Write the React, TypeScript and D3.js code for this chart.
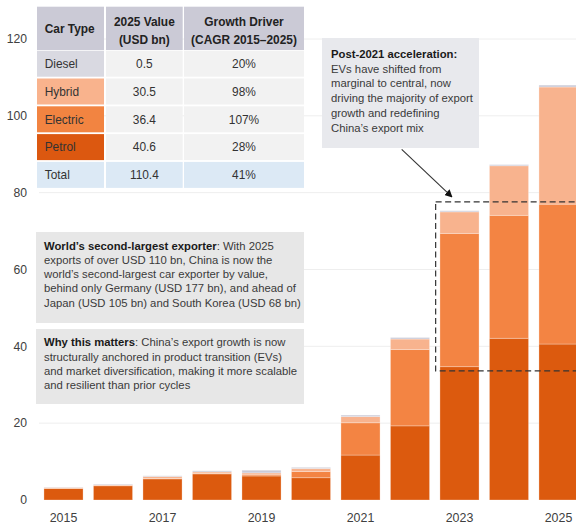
import React from "react";
import * as d3 from "d3";

const years = [2015, 2016, 2017, 2018, 2019, 2020, 2021, 2022, 2023, 2024, 2025];
const petrol = [3.0, 3.7, 5.5, 6.8, 6.25, 5.8, 11.7, 19.3, 34.7, 42.1, 40.6];
const electric = [0.05, 0.05, 0.1, 0.1, 0.3, 1.6, 8.4, 19.9, 34.7, 32.0, 36.4];
const hybrid = [0.2, 0.2, 0.5, 0.4, 0.5, 0.8, 1.6, 2.7, 5.6, 12.9, 30.5];
const diesel = [0.1, 0.2, 0.2, 0.3, 0.7, 0.3, 0.4, 0.4, 0.3, 0.3, 0.5];

const yTicks = [0, 20, 40, 60, 80, 100, 120];
const xTickYears = [2015, 2017, 2019, 2021, 2023, 2025];

const seriesKeys = ["petrol", "electric", "hybrid", "diesel"];
const seriesColors = ["#dc5a0e", "#f38443", "#f8b38e", "#cbcbd8"];

const tableHeader = [["Car Type"], ["2025 Value", "(USD bn)"], ["Growth Driver", "(CAGR 2015\u20132025)"]];
const tableTypes = ["Diesel", "Hybrid", "Electric", "Petrol", "Total"];
const tableValues = ["0.5", "30.5", "36.4", "40.6", "110.4"];
const tableCagr = ["20%", "98%", "107%", "28%", "41%"];
const tableLabelColors = ["#d9d9e1", "#f9b38d", "#f28441", "#dc5810", "#dce9f5"];

const box1Title = "World\u2019s second-largest exporter";
const box1Lines = [
  ": With 2025",
  "exports of over USD 110 bn, China is now the",
  "world\u2019s second-largest car exporter by value,",
  "behind only Germany (USD 177 bn), and ahead of",
  "Japan (USD 105 bn) and South Korea (USD 68 bn)",
];
const box2Title = "Why this matters";
const box2Lines = [
  ": China\u2019s export growth is now",
  "structurally anchored in product transition (EVs)",
  "and market diversification, making it more scalable",
  "and resilient than prior cycles",
];
const box3Title = "Post-2021 acceleration:";
const box3Lines = [
  "EVs have shifted from",
  "marginal to central, now",
  "driving the majority of export",
  "growth and redefining",
  "China\u2019s export mix",
];

const FONT = "'Liberation Sans', Arial, Helvetica, sans-serif";

export default function App() {
  const W = 576;
  const H = 529;
  const x = d3
    .scaleBand<string>()
    .domain(years.map(String))
    .range([39, 583])
    .paddingInner(0.21)
    .paddingOuter(0.1);
  const y = d3.scaleLinear().domain([0, 120]).range([500, 39]);

  const rows = years.map((yr, i) => ({
    year: String(yr),
    petrol: petrol[i],
    electric: electric[i],
    hybrid: hybrid[i],
    diesel: diesel[i],
  }));
  const stacked = d3.stack<any>().keys(seriesKeys)(rows);

  // table geometry
  const colX = [37, 106, 184];
  const colW = [67, 76.7, 120];
  const headY = 6.7;
  const headH = 43.3;
  const rowY0 = 50.7;
  const rowStep = 27.8;
  const rowH = 26;

  const bx = x("2023")!;
  const dashTop = y(77.6);
  const dashBot = y(33.6);

  const fs = 11.3;
  const lh = 14.2;

  return (
    <div style={{ position: "absolute", left: 0, top: 0 }}>
      <svg width={W} height={H} style={{ display: "block", fontFamily: FONT }}>
        <rect x={0} y={0} width={W} height={H} fill="#ffffff" />
        {/* gridlines */}
        {yTicks
          .filter((t) => t > 0)
          .map((t) => (
            <line key={t} x1={39} x2={W} y1={y(t)} y2={y(t)} stroke="#eeeeee" strokeWidth={1} />
          ))}
        {/* y tick labels */}
        {yTicks.map((t) => (
          <text key={t} x={27} y={y(t) + 4.3} textAnchor="end" fontSize={12.2} fill="#404040">
            {t}
          </text>
        ))}
        {/* x tick labels */}
        {xTickYears.map((yr) => (
          <text
            key={yr}
            x={x(String(yr))! + x.bandwidth() / 2}
            y={522}
            textAnchor="middle"
            fontSize={12.4}
            fill="#404040"
          >
            {yr}
          </text>
        ))}
        {/* bars */}
        {stacked.map((s, si) => (
          <g key={s.key} fill={seriesColors[si]}>
            {s.map((d, i) => {
              const h = y(d[0]) - y(d[1]);
              if (h <= 0) return null;
              return (
                <rect
                  key={i}
                  x={x(rows[i].year)!}
                  y={y(d[1])}
                  width={x.bandwidth()}
                  height={h}
                  stroke="rgba(255,255,255,0.35)"
                  strokeWidth={0.8}
                />
              );
            })}
          </g>
        ))}

        {/* table */}
        {tableHeader.map((lines, ci) => (
          <g key={"h" + ci}>
            <rect x={colX[ci]} y={headY} width={colW[ci]} height={headH} fill="#cbcad6" />
            {lines.map((ln, li) => (
              <text
                key={li}
                x={ci === 0 ? colX[ci] + 7.7 : colX[ci] + colW[ci] / 2}
                y={lines.length === 1 ? headY + headH / 2 + 4.2 : headY + 14.6 + li * 18.7 + 4.2}
                textAnchor={ci === 0 ? "start" : "middle"}
                fontSize={11.9}
                fontWeight="bold"
                fill="#222222"
              >
                {ln}
              </text>
            ))}
          </g>
        ))}
        {tableTypes.map((tp, ri) => {
          const ry = rowY0 + ri * rowStep;
          const isTotal = ri === tableTypes.length - 1;
          const other = isTotal ? "#dce9f5" : "#f2f2f2";
          const cells = [tp, tableValues[ri], tableCagr[ri]];
          return (
            <g key={tp}>
              {cells.map((c, ci) => (
                <g key={ci}>
                  <rect
                    x={colX[ci]}
                    y={ry}
                    width={colW[ci]}
                    height={rowH}
                    fill={ci === 0 ? tableLabelColors[ri] : other}
                  />
                  <text
                    x={ci === 0 ? colX[ci] + 7.7 : colX[ci] + colW[ci] / 2}
                    y={ry + rowH / 2 + 4.3}
                    textAnchor={ci === 0 ? "start" : "middle"}
                    fontSize={11.9}
                    fill="#333333"
                  >
                    {c}
                  </text>
                </g>
              ))}
            </g>
          );
        })}

        {/* box 1 */}
        <rect x={36} y={232} width={268} height={91} fill="#e7e7e7" />
        <text fontSize={fs} fill="#3a3a3a">
          {box1Lines.map((ln, i) => (
            <tspan key={i} x={44} y={249.8 + i * lh}>
              {i === 0 ? (
                <>
                  <tspan fontWeight="bold" fill="#1a1a1a">
                    {box1Title}
                  </tspan>
                  {ln}
                </>
              ) : (
                ln
              )}
            </tspan>
          ))}
        </text>

        {/* box 2 */}
        <rect x={36} y={329} width={268} height={75} fill="#e7e7e7" />
        <text fontSize={fs} fill="#3a3a3a">
          {box2Lines.map((ln, i) => (
            <tspan key={i} x={44} y={346.2 + i * 14.4}>
              {i === 0 ? (
                <>
                  <tspan fontWeight="bold" fill="#1a1a1a">
                    {box2Title}
                  </tspan>
                  {ln}
                </>
              ) : (
                ln
              )}
            </tspan>
          ))}
        </text>

        {/* box 3 */}
        <rect x={322} y={38} width={157} height={110} fill="#e8e9ed" />
        <text fontSize={fs} fill="#3a3a3a">
          <tspan x={331} y={58} fontWeight="bold" fill="#1a1a1a">
            {box3Title}
          </tspan>
          {box3Lines.map((ln, i) => (
            <tspan key={i} x={331} y={58 + (i + 1) * 14.7}>
              {ln}
            </tspan>
          ))}
        </text>

        {/* dashed highlight */}
        <rect
          x={bx - 4.3}
          y={dashTop}
          width={W}
          height={dashBot - dashTop}
          fill="none"
          stroke="#333333"
          strokeWidth={1.2}
          strokeDasharray="6,3.5"
        />

        {/* arrow */}
        <defs>
          <marker id="ah" viewBox="0 0 10 10" refX="9" refY="5" markerWidth="7" markerHeight="7" orient="auto">
            <path d="M0,0 L10,5 L0,10 z" fill="#111111" />
          </marker>
        </defs>
        <line
          x1={401.7}
          y1={149.3}
          x2={bx + 12}
          y2={dashTop - 5}
          stroke="#333333"
          strokeWidth={1.1}
          markerEnd="url(#ah)"
        />
      </svg>
    </div>
  );
}
